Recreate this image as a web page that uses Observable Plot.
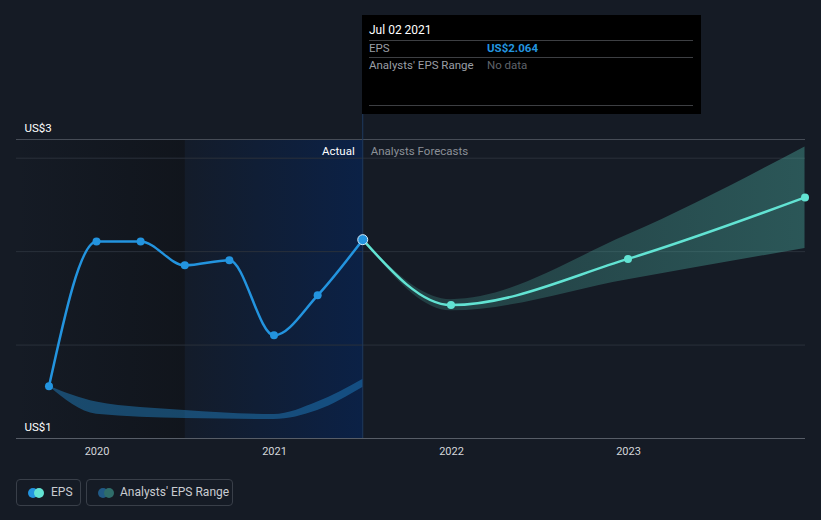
<!DOCTYPE html>
<html>
<head>
<meta charset="utf-8">
<script src="https://cdn.jsdelivr.net/npm/d3@7"></script>
<script src="https://cdn.jsdelivr.net/npm/@observablehq/plot@0.6"></script>
<style>
  html, body { margin: 0; padding: 0; background: #151b25; }
  body { width: 821px; height: 520px; position: relative; overflow: hidden; font-family: Roboto, "Open Sans", sans-serif; }
  #chart { position: absolute; left: 0; top: 0; }
  .tip { position: absolute; left: 362px; top: 15px; width: 339px; height: 99px; background: #000; font-size: 11.5px; }
  .tip .row { position: absolute; left: 7px; right: 8px; }
  .tip .sep { position: absolute; left: 7px; right: 8px; height: 1px; background: #3d3f43; }
  .legend { position: absolute; top: 479px; height: 27px; border: 1px solid #393f49; border-radius: 4px; box-sizing: border-box; color: #c9ccd1; font-size: 12px; line-height: 25px; }
  .legend .c { position: absolute; top: 8px; width: 10px; height: 10px; border-radius: 50%; }
</style>
</head>
<body>
<div id="chart"></div>
<div class="tip">
  <div class="row" style="top:8px;color:#fff;font-size:12px;">Jul 02 2021</div>
  <div class="sep" style="top:25px;"></div>
  <div class="row" style="top:26px;color:#9a9ea5;">EPS</div>
  <div class="row" style="top:26px;left:125px;color:#2394df;font-weight:bold;">US$2.064</div>
  <div class="sep" style="top:42px;"></div>
  <div class="row" style="top:43px;color:#9a9ea5;">Analysts' EPS Range</div>
  <div class="row" style="top:43px;left:125px;color:#5f636a;">No data</div>
  <div class="sep" style="top:90px;"></div>
</div>
<div class="legend" style="left:16px;width:65px;">
  <span class="c" style="left:11px;background:#2394df;"></span>
  <span class="c" style="left:17px;background:#62e3d3;"></span>
  <span style="position:absolute;left:34px;">EPS</span>
</div>
<div class="legend" style="left:86px;width:147px;">
  <span class="c" style="left:11px;background:#215a86;"></span>
  <span class="c" style="left:17px;background:#2f6d6a;"></span>
  <span style="position:absolute;left:33px;">Analysts' EPS Range</span>
</div>
<script>
// ---- data ----
const epsDates = ["2019-09-24","2019-12-31","2020-03-31","2020-06-30","2020-09-30","2020-12-31","2021-03-31","2021-07-02"];
const epsValues = [1.279, 2.054, 2.054, 1.927, 1.954, 1.552, 1.766, 2.064];

const pastRangeDates = ["2019-09-24","2019-12-31","2020-06-30","2020-12-31","2021-03-31","2021-07-02"];
const pastRangeLow  = [1.279, 1.13, 1.107, 1.102, 1.15, 1.273];
const pastRangeHigh = [1.279, 1.195, 1.15, 1.128, 1.195, 1.316];

const fcDates  = ["2021-07-02","2021-12-31","2022-12-31","2023-12-31"];
const fcValues = [2.064, 1.714, 1.961, 2.29];
const fcLow    = [2.064, 1.683, 1.85, 2.017];
const fcHigh   = [2.064, 1.743, 2.09, 2.56];

const xTickLabels = ["2020","2021","2022","2023"];
const yLabelValues = [1, 2.6];
const yLabelTexts = ["US$1","US$3"];
const gridValues = [1.5, 2.0, 2.5];
const xDomain = ["2019-07-19","2024-01-01"];
const yDomain = [1, 2.6];
const lastYearStart = "2020-07-01";
const todayDate = "2021-07-02";
const sectionLabels = ["Actual","Analysts Forecasts"];
const sectionLabelValue = 2.538;

// ---- build tables ----
const D = s => new Date(s + "T00:00:00Z");
const eps = epsDates.map((d,i) => ({date: D(d), v: epsValues[i]}));
const pastRange = pastRangeDates.map((d,i) => ({date: D(d), lo: pastRangeLow[i], hi: pastRangeHigh[i]}));
const fc = fcDates.map((d,i) => ({date: D(d), v: fcValues[i], lo: fcLow[i], hi: fcHigh[i]}));
const xTicks = xTickLabels.map(y => D(y + "-01-01"));
const today = D(todayDate);
const x0 = D(xDomain[0]), x1 = D(xDomain[1]);

const plot = Plot.plot({
  width: 821, height: 520,
  marginLeft: 16, marginRight: 16, marginTop: 139, marginBottom: 82,
  style: {background: "transparent", fontFamily: "Roboto, sans-serif"},
  x: {type: "utc", domain: [x0, x1]},
  y: {domain: yDomain, axis: null},
  marks: [
    Plot.rectY([{a: x0, b: D(lastYearStart)}], {x1: "a", x2: "b", y1: yDomain[0], y2: yDomain[1], fill: "url(#pastGrad)"}),
    Plot.rectY([{a: D(lastYearStart), b: today}], {x1: "a", x2: "b", y1: yDomain[0], y2: yDomain[1], fill: "url(#yearGrad)"}),
    Plot.ruleY(gridValues, {stroke: "#2a313b", strokeWidth: 1}),
    Plot.ruleY([yDomain[1]], {stroke: "#464c56", strokeWidth: 1}),
    Plot.ruleX([today], {y1: yDomain[0], y2: 2.735, stroke: "#1d3a60", strokeWidth: 1}),
    Plot.areaY(pastRange, {x: "date", y1: "lo", y2: "hi", fill: "#2394df", fillOpacity: 0.4, curve: "monotone-x"}),
    Plot.areaY(fc, {x: "date", y1: "lo", y2: "hi", fill: "url(#fcGrad)", curve: "monotone-x"}),
    Plot.ruleY([yDomain[0]], {stroke: "#575d67", strokeWidth: 1}),
    Plot.axisX({ticks: xTicks, tickFormat: "%Y", tickSize: 0, tickPadding: 9, fontSize: 11, color: "#d3d6da"}),
    Plot.line(fc, {x: "date", y: "v", stroke: "#62e3d3", strokeWidth: 2.5, curve: "monotone-x"}),
    Plot.dot(fc.slice(1), {x: "date", y: "v", r: 4, fill: "#62e3d3"}),
    Plot.line(eps, {x: "date", y: "v", stroke: "#2394df", strokeWidth: 2.5, curve: "monotone-x"}),
    Plot.dot(eps.slice(0, -1), {x: "date", y: "v", r: 4, fill: "#2394df"}),
    Plot.dot(eps.slice(-1), {x: "date", y: "v", r: 5, fill: "#2394df", stroke: "#d6ecfb", strokeWidth: 1}),
    Plot.text(yLabelValues, {y: d => d, text: (d,i) => yLabelTexts[i], frameAnchor: "left", textAnchor: "start", dx: 8, dy: -11, fill: "#ffffff", fontSize: 11.5}),
    Plot.text([sectionLabels[0]], {x: today, y: sectionLabelValue, text: d => d, textAnchor: "end", dx: -8, fill: "#ffffff", fontSize: 11.5}),
    Plot.text([sectionLabels[1]], {x: today, y: sectionLabelValue, text: d => d, textAnchor: "start", dx: 8, fill: "#8b9097", fontSize: 11.5})
  ]
});

d3.select(plot).insert("defs", ":first-child").html(`
  <linearGradient id="pastGrad" x1="0" x2="1" y1="0" y2="0">
    <stop offset="0" stop-color="#0d1015" stop-opacity="0"/>
    <stop offset="1" stop-color="#0d1015" stop-opacity="0.55"/>
  </linearGradient>
  <linearGradient id="yearGrad" x1="0" x2="1" y1="0" y2="0">
    <stop offset="0" stop-color="#0b2146" stop-opacity="0.15"/>
    <stop offset="1" stop-color="#0b2146" stop-opacity="1"/>
  </linearGradient>
  <linearGradient id="fcGrad" x1="0" x2="1" y1="0" y2="0">
    <stop offset="0" stop-color="#4fb8aa" stop-opacity="0.2"/>
    <stop offset="1" stop-color="#4fb8aa" stop-opacity="0.38"/>
  </linearGradient>
`);

document.getElementById("chart").appendChild(plot);
</script>
</body>
</html>
